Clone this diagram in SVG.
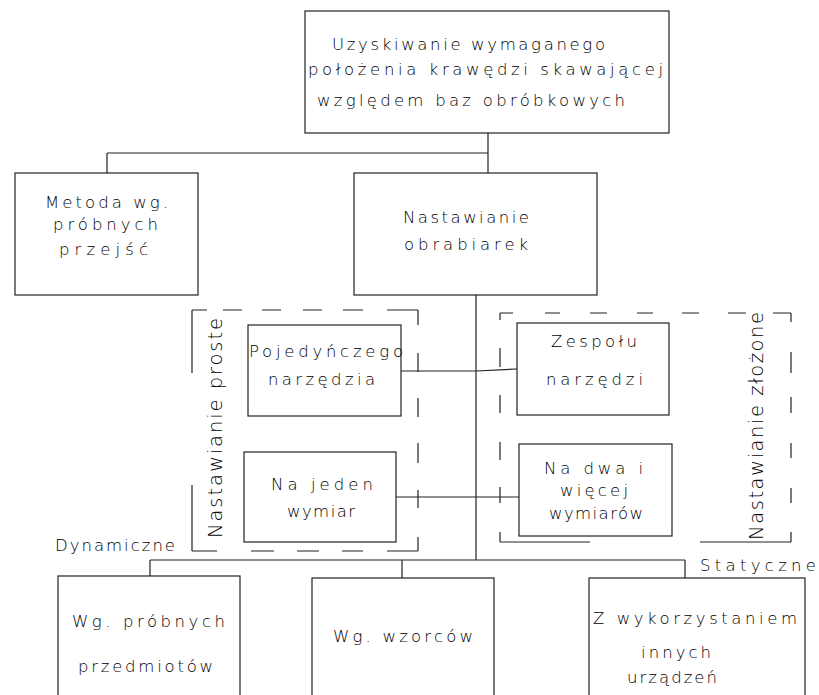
<svg xmlns="http://www.w3.org/2000/svg" width="819" height="695" viewBox="0 0 819 695">
<style>
rect.box{fill:none;stroke:#222;stroke-width:1.2}
.ln{fill:none;stroke:#222;stroke-width:1.2}
.dash{fill:none;stroke:#222;stroke-width:1.2}
text{font-family:"DejaVu Sans","Liberation Sans",sans-serif;font-weight:200;font-size:16.5px;fill:#000}
text.rot{font-size:19.5px}
</style>
<rect width="819" height="695" fill="#fff"/>
<g id="connectors">
<path class="ln" d="M488,133V153 M107,153H488 M107,153V173 M488,153V173"/>
<path class="ln" d="M476,295V560"/>
<path class="ln" d="M401,371H476L517,369"/>
<path class="ln" d="M396,497H519"/>
<path class="ln" d="M150,560H685 M150,560V576 M402,560V578 M685,560V578"/>
</g>
<g id="group-proste">
<path class="dash" d="M192,310H207 M223,310H242 M262,310H281 M303,310H322 M343,310H363 M387,310H418 M418,310V325 M418,353V372 M418,398V417 M418,443V463 M418,490V508 M418,537V551 M192,551H217 M251,551H274 M297,551H319 M342,551H363 M387,551H418 M192,310V373 M192,485V551"/>
<text class="rot" transform="translate(222,538) rotate(-90)" x="0" y="0" textLength="220" lengthAdjust="spacing">Nastawianie proste</text>
</g>
<g id="group-zlozone">
<path class="dash" d="M500,313H513 M545,313H560 M590,313H607 M637,313H653 M682,313H699 M728,313H746 M773,313H791 M791,313V322 M791,352V373 M791,397V413 M791,443V458 M791,488V503 M791,532V542 M500,542H590 M700,542H791 M500,313V320 M500,348V367 M500,395V413 M500,442V460 M500,487V503 M500,532V542"/>
<text class="rot" transform="translate(763,540) rotate(-90)" x="0" y="0" textLength="228" lengthAdjust="spacing">Nastawianie złożone</text>
</g>
<g id="n-top">
<rect class="box" x="305" y="11" width="364" height="122"/>
<text x="332" y="50" textLength="273" lengthAdjust="spacing">Uzyskiwanie wymaganego</text>
<text x="308" y="75" textLength="355" lengthAdjust="spacing">położenia krawędzi skawającej</text>
<text x="317" y="106" textLength="308" lengthAdjust="spacing">względem baz obróbkowych</text>
</g>
<g id="n-metoda">
<rect class="box" x="15" y="173" width="183" height="122"/>
<text x="45" y="208" textLength="123" lengthAdjust="spacing">Metoda wg.</text>
<text x="53" y="230" textLength="105" lengthAdjust="spacing">próbnych</text>
<text x="59" y="255" textLength="89" lengthAdjust="spacing">przejść</text>
</g>
<g id="n-nastawianie">
<rect class="box" x="354" y="173" width="243" height="122"/>
<text x="403" y="223" textLength="126" lengthAdjust="spacing">Nastawianie</text>
<text x="404" y="250" textLength="124" lengthAdjust="spacing">obrabiarek</text>
</g>
<g id="n-pojedynczego">
<rect class="box" x="248" y="325" width="153" height="91"/>
<text x="249" y="357" textLength="154" lengthAdjust="spacing">Pojedyńczego</text>
<text x="268" y="385" textLength="107" lengthAdjust="spacing">narzędzia</text>
</g>
<g id="n-najeden">
<rect class="box" x="244" y="452" width="152" height="90"/>
<text x="271" y="490" textLength="102" lengthAdjust="spacing">Na jeden</text>
<text x="287" y="517" textLength="68" lengthAdjust="spacing">wymiar</text>
</g>
<g id="n-zespolu">
<rect class="box" x="517" y="323" width="152" height="92"/>
<text x="551" y="347" textLength="86" lengthAdjust="spacing">Zespołu</text>
<text x="546" y="385" textLength="97" lengthAdjust="spacing">narzędzi</text>
</g>
<g id="n-nadwa">
<rect class="box" x="519" y="444" width="153" height="92"/>
<text x="544" y="474" textLength="99" lengthAdjust="spacing">Na dwa i</text>
<text x="560" y="496" textLength="68" lengthAdjust="spacing">więcej</text>
<text x="549" y="519" textLength="94" lengthAdjust="spacing">wymiarów</text>
</g>
<g id="label-dynamiczne">
<text x="55" y="551" textLength="120" lengthAdjust="spacing">Dynamiczne</text>
</g>
<g id="label-statyczne">
<text x="700" y="571" textLength="116" lengthAdjust="spacing">Statyczne</text>
</g>
<g id="n-wg-probnych">
<rect class="box" x="58" y="576" width="182" height="130"/>
<text x="72" y="627" textLength="153" lengthAdjust="spacing">Wg. próbnych</text>
<text x="78" y="672" textLength="135" lengthAdjust="spacing">przedmiotów</text>
</g>
<g id="n-wg-wzorcow">
<rect class="box" x="312" y="578" width="182" height="130"/>
<text x="333" y="642" textLength="140" lengthAdjust="spacing">Wg. wzorców</text>
</g>
<g id="n-z-wykorzystaniem">
<rect class="box" x="589" y="578" width="216" height="130"/>
<text x="593" y="624" textLength="204" lengthAdjust="spacing">Z wykorzystaniem</text>
<text x="641" y="658" textLength="70" lengthAdjust="spacing">innych</text>
<text x="627" y="683" textLength="90" lengthAdjust="spacing">urządzeń</text>
</g>
</svg>
